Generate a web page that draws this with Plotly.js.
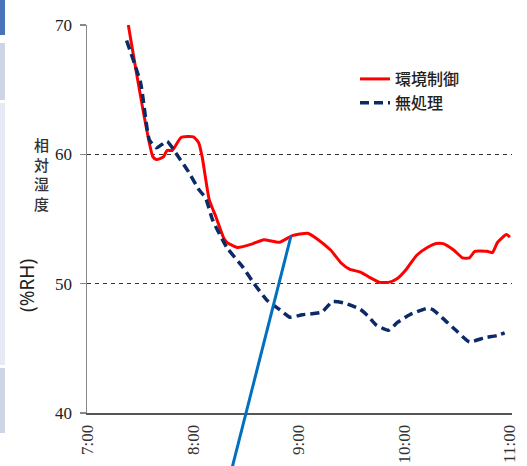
<!DOCTYPE html>
<html>
<head>
<meta charset="utf-8">
<script src="https://cdn.plot.ly/plotly-3.0.1.min.js"></script>
<style>html,body{margin:0;padding:0;background:#fff;}#chart{width:527px;height:466px;}</style>
</head>
<body>
<div id="chart"></div>
<script>
// ---- data ----
var seriesNames = ["環境制御", "無処理"];
var controlTimes = ["07:23","07:37","07:39","07:43","07:45","07:48","07:53","08:00","08:03","08:05","08:09","08:13","08:17","08:19","08:25","08:34","08:40","08:49","08:56","09:05","09:10","09:18","09:24","09:29","09:35","09:40","09:46","09:51","09:56","10:01","10:07","10:13","10:18","10:22","10:28","10:33","10:37","10:40","10:47","10:50","10:53","10:58","11:00"];
var controlRH    = [70.0, 59.8, 59.6, 59.8, 60.3, 60.3, 61.3, 61.35, 60.9, 59.8, 56.5, 55.1, 53.6, 53.2, 52.8, 53.1, 53.4, 53.2, 53.7, 53.9, 53.5, 52.6, 51.6, 51.1, 50.9, 50.5, 50.1, 50.1, 50.4, 51.1, 52.2, 52.8, 53.1, 53.1, 52.6, 52.0, 52.0, 52.5, 52.5, 52.4, 53.2, 53.8, 53.6];
var untreatedTimes = ["07:22","07:30","07:35","07:39","07:45","07:50","07:57","08:03","08:07","08:11","08:19","08:28","08:34","08:42","08:49","08:55","09:02","09:13","09:19","09:26","09:35","09:40","09:44","09:51","09:56","10:03","10:13","10:16","10:22","10:30","10:37","10:45","10:53","10:57"];
var untreatedRH    = [68.8, 65.5, 61.1, 60.5, 61.0, 60.1, 58.7, 57.3, 56.6, 54.9, 52.8, 51.3, 50.1, 48.7, 48.0, 47.4, 47.6, 47.8, 48.6, 48.5, 48.0, 47.4, 46.8, 46.4, 47.0, 47.6, 48.1, 48.0, 47.3, 46.3, 45.5, 45.8, 46.0, 46.2];
var tickTimes = ["07:00","08:00","09:00","10:00","11:00"];
var yTicks = [40, 50, 60, 70];
var yTitleJa = "相対湿度";
var yUnit = "(%RH)";

// ---- helpers ----
var DAY = "2000-01-01 ";
function toDate(arr){ return arr.map(function(t){ return DAY + t; }); }

var W = 527, H = 466;
var M = {l: 87, r: 15, t: 25, b: 53};
var PW = W - M.l - M.r, PH = H - M.t - M.b;
function px(x){ return (x - M.l) / PW; }
function py(y){ return (H - M.b - y) / PH; }

var traces = [
  {x: toDate(controlTimes), y: controlRH, name: seriesNames[0], type: "scatter", mode: "lines",
   line: {color: "#ff0000", width: 3, shape: "spline", smoothing: 0.5}},
  {x: toDate(untreatedTimes), y: untreatedRH, name: seriesNames[1], type: "scatter", mode: "lines",
   line: {color: "#0b2a66", width: 3.5, dash: "9px,5px", shape: "spline", smoothing: 0.5}}
];

var stripShapes = [
  {y0: 0, y1: 35, c: "#4a72b8"},
  {y0: 43, y1: 100, c: "#cdd5e6"},
  {y0: 103, y1: 365, c: "#e6eaf4"},
  {y0: 368, y1: 433, c: "#cdd5e6"}
].map(function(s){
  return {type: "rect", xref: "paper", yref: "paper", x0: px(0), x1: px(5), y0: py(s.y1), y1: py(s.y0),
          fillcolor: s.c, line: {width: 0}, layer: "above"};
});

var layout = {
  width: W, height: H,
  margin: M,
  paper_bgcolor: "#ffffff", plot_bgcolor: "#ffffff",
  font: {family: "Liberation Serif, serif", size: 17, color: "#222"},
  showlegend: true,
  legend: {x: px(355), y: py(62), xanchor: "left", yanchor: "top", bgcolor: "rgba(0,0,0,0)",
           font: {family: "Noto Sans CJK JP", size: 16, color: "#222", weight: 500}, tracegroupgap: 0},
  xaxis: {type: "date", range: [DAY + "06:59:30", DAY + "11:01:10"], tickmode: "array",
          tickvals: toDate(tickTimes), tickformat: "%-H:%M", tickangle: -90,
          showgrid: false, zeroline: false, showline: true, linecolor: "#555", linewidth: 2,
          ticks: "", ticklabelstandoff: 3, tickfont: {family: "Liberation Serif", size: 17, color: "#333"}},
  yaxis: {range: [40, 70], tickmode: "array", tickvals: yTicks, showgrid: true, gridcolor: "#333",
          gridwidth: 1.6, griddash: "4px,4px", zeroline: false, showline: true, linecolor: "#888",
          linewidth: 1.5, ticks: "outside", ticklen: 6, tickcolor: "#888", tickwidth: 1.5,
          ticklabelstandoff: 4, tickfont: {family: "Liberation Serif", size: 17, color: "#222"}},
  shapes: stripShapes.concat([
    {type: "line", xref: "paper", yref: "paper", x0: px(229), y0: py(480), x1: px(291), y1: py(236),
     line: {color: "#0070c0", width: 3}, layer: "above"}
  ]),
  annotations: [
    {xref: "paper", yref: "paper", x: px(41), y: py(174), xanchor: "center", yanchor: "middle",
     text: yTitleJa.split("").join("<br>"), showarrow: false,
     font: {family: "Noto Sans CJK JP", size: 15, color: "#333", weight: 500}},
    {xref: "paper", yref: "paper", x: px(27), y: py(286), xanchor: "center", yanchor: "middle",
     text: yUnit, textangle: -90, showarrow: false,
     font: {family: "Noto Sans", size: 19, color: "#222"}}
  ]
};

Plotly.newPlot("chart", traces, layout, {staticPlot: true, displayModeBar: false});
</script>
</body>
</html>
